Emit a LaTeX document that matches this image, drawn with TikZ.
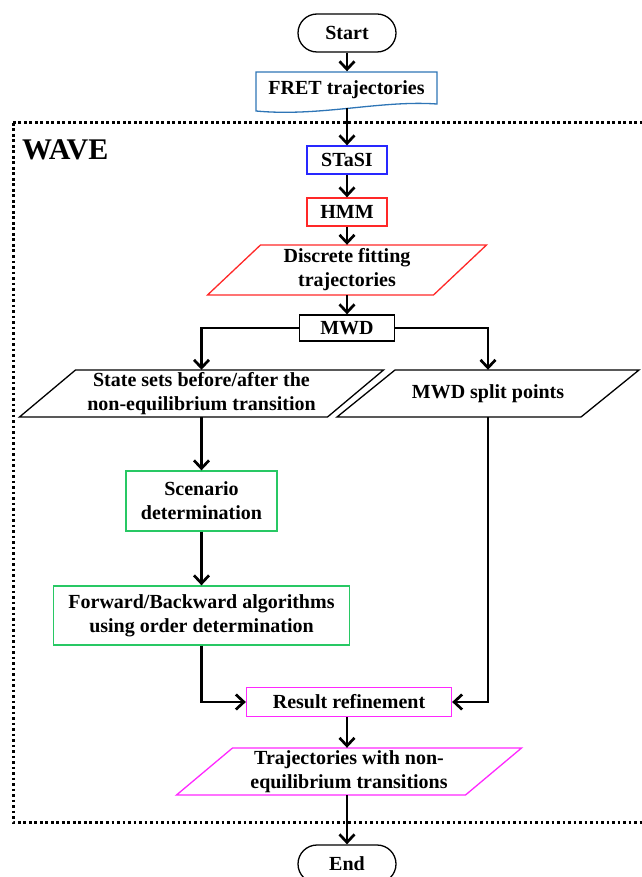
\documentclass[tikz,border=0pt]{standalone}
\usepackage{fontspec}
\setmainfont{Liberation Serif}
\usetikzlibrary{arrows.meta}
\definecolor{fretblue}{RGB}{46,117,182}
\definecolor{stblue}{RGB}{40,40,255}
\definecolor{myred}{RGB}{255,40,40}
\definecolor{mygreen}{RGB}{40,200,100}
\definecolor{mymag}{RGB}{255,40,255}
% parallelogram outline: name, colour, centre x, centre y, width, height, slant
\newcommand{\paraout}[7]{%
  \draw[#2, line width=1.3pt] (#3-#5/2+#7,#4-#6/2) -- (#3+#5/2,#4-#6/2)
     -- (#3+#5/2-#7,#4+#6/2) -- (#3-#5/2,#4+#6/2) -- cycle;}
\begin{document}
\begin{tikzpicture}[x=1pt,y=-1pt,
  font=\fontsize{20}{24}\selectfont\bfseries,
  box/.style={draw, line width=1.3pt, minimum height=28pt, inner sep=2pt, align=center},
  term/.style={draw, line width=1.3pt, rounded corners=19pt, minimum width=98pt, minimum height=38pt},
  ptext/.style={align=center, inner sep=0pt},
  conn/.style={line width=2.7pt, -{Straight Barb[length=8pt,width=15pt]}},
  frame/.style={line width=3pt, dash pattern=on 2.6pt off 2.9pt}
]
\useasboundingbox (0,0) rectangle (641,877);

% frame
\draw[frame] (13,123) rectangle (660,822);
\node[font=\fontsize{30}{36}\selectfont\bfseries, anchor=base west, inner sep=0] (wave) at (22,160) {WAVE};

\node[term] (start) at (347,33) {Start};
\node[minimum width=181pt, minimum height=37pt, inner sep=0] (fret) at (346.5,90) {FRET trajectories};
\draw[fretblue, line width=1.3pt] (256,72) -- (437,72) -- (437,104) .. controls (380,100) and (320,117) .. (256,111) -- cycle;

\node[box, draw=stblue, minimum width=80pt] (stasi) at (347,160) {STaSI};
\node[box, draw=myred, minimum width=80pt] (hmm) at (347,212) {HMM};

\node[ptext, minimum width=226pt, minimum height=50pt] (disc) at (347,270) {Discrete fitting\\trajectories};
\paraout{disc}{myred}{347}{270}{279}{50}{53}

\node[box, minimum width=95pt, minimum height=26pt] (mwd) at (347,328) {MWD};

\node[ptext, minimum width=308pt, minimum height=47pt] (state) at (201.5,393.5) {State sets before/after the\\non-equilibrium transition};
\paraout{state}{black}{201.5}{393.5}{364}{47}{56}

\node[ptext, minimum width=244pt, minimum height=47pt] (split) at (488,393.5) {MWD split points};
\paraout{split}{black}{488}{393.5}{302}{47}{58}

\node[box, draw=mygreen, minimum width=151pt, minimum height=60pt] (scen) at (201.5,501) {Scenario\\determination};
\node[box, draw=mygreen, minimum width=296pt, minimum height=59pt] (fwd) at (201.5,615.5) {Forward/Backward algorithms\\using order determination};
\node[box, draw=mymag, minimum width=205pt, minimum height=29pt] (res) at (349,702) {Result refinement};

\node[ptext, minimum width=289pt, minimum height=47pt] (traj) at (349,771.5) {Trajectories with non-\\equilibrium transitions};
\paraout{traj}{mymag}{349}{771.5}{345}{47}{56}

\node[term] (end) at (347,864) {End};

\draw[conn] (start) -- (fret.north -| start);
\draw[conn] ([yshift=1pt]fret.south -| start) -- (stasi);
\draw[conn] (stasi) -- (hmm);
\draw[conn] (hmm) -- (disc.north -| hmm);
\draw[conn] (disc.south -| mwd) -- (mwd);
\draw[conn] (mwd.west) -| (state);
\draw[conn] (mwd.east) -| (split);
\draw[conn] (state) -- (scen);
\draw[conn] (scen) -- (fwd);
\draw[conn] (fwd) |- (res);
\draw[conn] (split) |- (res);
\draw[conn] (res.south -| end) -- (traj.north -| end);
\draw[conn] (traj.south -| end) -- (end);
\end{tikzpicture}
\end{document}
